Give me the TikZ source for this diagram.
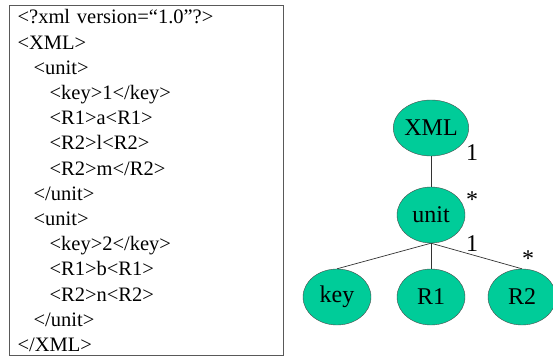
\documentclass[tikz,border=0pt]{standalone}
\usepackage{fontspec}
\setmainfont{Liberation Serif}
\usepackage{tikz}
\usetikzlibrary{shapes.geometric,positioning}

\definecolor{leafgreen}{RGB}{0,204,153}

\begin{document}
\begin{tikzpicture}[
    x=1pt, y=-1pt,
    codebox/.style={rectangle, draw=black!65, line width=1.2pt, anchor=north west,
        minimum width=274pt, minimum height=350pt, text width=258pt,
        inner xsep=8pt, align=left, font=\fontsize{20.5}{25.2}\selectfont},
    elem/.style={ellipse, draw=black!70, fill=leafgreen, minimum width=68pt,
        minimum height=56pt, inner sep=0pt, font=\fontsize{24}{28}\selectfont},
    mult/.style={anchor=base, inner sep=0pt, font=\fontsize{24}{28}\selectfont},
    link/.style={draw=black!80, line width=0.7pt}
]
    \useasboundingbox (0,0) rectangle (553,356);

    % XML listing
    \node[codebox] (listing) at (9,5) {%
        <?xml version=“1.0”?>\\
        <XML>\\
        \hspace*{16pt}<unit>\\
        \hspace*{32pt}<key>1</key>\\
        \hspace*{32pt}<R1>a<R1>\\
        \hspace*{32pt}<R2>l<R2>\\
        \hspace*{32pt}<R2>m</R2>\\
        \hspace*{16pt}</unit>\\
        \hspace*{16pt}<unit>\\
        \hspace*{32pt}<key>2</key>\\
        \hspace*{32pt}<R1>b<R1>\\
        \hspace*{32pt}<R2>n<R2>\\
        \hspace*{16pt}</unit>\\
        </XML>};

    % Tree
    \node[elem] (xml) at (431,128) {XML};
    \node[elem] (unit) at (431,215) {unit};
    \node[elem] (key) at (337,297) {key};
    \node[elem] (rone) at (431,297) {R1};
    \node[elem] (rtwo) at (522,297) {R2};

    % Edges
    \draw[link] (xml) -- (unit);
    \draw[link] (unit.south) -- (key.north);
    \draw[link] (unit.south) -- (rone.north);
    \draw[link] (unit.south) -- (rtwo.north);

    % Multiplicities
    \node[mult] (xmlone) at (472,160) {1};
    \node[mult] (unitstar) at (472,207) {*};
    \node[mult] (unitone) at (472,251) {1};
    \node[mult] (rtwostar) at (528,266) {*};

\end{tikzpicture}
\end{document}
